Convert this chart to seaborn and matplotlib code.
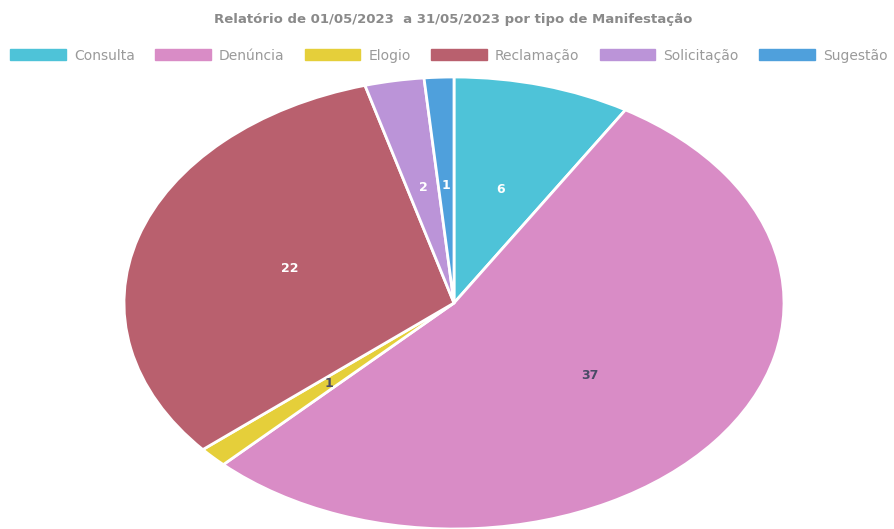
import matplotlib
matplotlib.use("Agg")
import matplotlib.pyplot as plt
from matplotlib.patches import Patch
import seaborn as sns

# data
categorias = ["Consulta", "Denúncia", "Elogio", "Reclamação", "Solicitação", "Sugestão"]
quantidades = [6, 37, 1, 22, 2, 1]
cores = ["#4ec3d8", "#d98cc6", "#e5cf3a", "#b9606e", "#bb94d8", "#4fa0dc"]
cor_rotulo = ["white", "#4a4a66", "#4a4a66", "white", "white", "white"]
titulo = "Relatório de 01/05/2023  a 31/05/2023 por tipo de Manifestação"

sns.set_theme(style="white")
plt.rcParams["font.family"] = ["DejaVu Sans"]

W, H = 894, 529
fig = plt.figure(figsize=(W / 100, H / 100), dpi=100)
fig.patch.set_facecolor("white")

# ellipse: center (454, 303) px, radii 330 x 226 px
cx, cy, rx, ry = 454, 303, 330, 226
ax = fig.add_axes([(cx - rx) / W, (H - cy - ry) / H, 2 * rx / W, 2 * ry / H])

wedges, texts = ax.pie(
    quantidades,
    colors=cores,
    startangle=90,
    counterclock=False,
    labels=[str(q) for q in quantidades],
    labeldistance=0.52,
    wedgeprops=dict(edgecolor="white", linewidth=2),
    textprops=dict(fontsize=9, fontweight="bold", ha="center", va="center"),
)
for t, c in zip(texts, cor_rotulo):
    t.set_color(c)

ax.set_aspect("auto")
ax.set_xlim(-1, 1)
ax.set_ylim(-1, 1)
ax.axis("off")

fig.text(0.507, 0.964, titulo, ha="center", va="center",
         fontsize=9.5, fontweight="bold", color="#8a8a8a")

handles = [Patch(facecolor=c, edgecolor=c) for c in cores]
fig.legend(handles, categorias, loc="center", bbox_to_anchor=(0.502, 0.895),
           ncol=6, frameon=False, fontsize=10, labelcolor="#9a9a9a",
           handlelength=4.0, handleheight=0.8, handletextpad=0.6,
           columnspacing=1.45)

fig.savefig("out.png", dpi=100, facecolor="white")
